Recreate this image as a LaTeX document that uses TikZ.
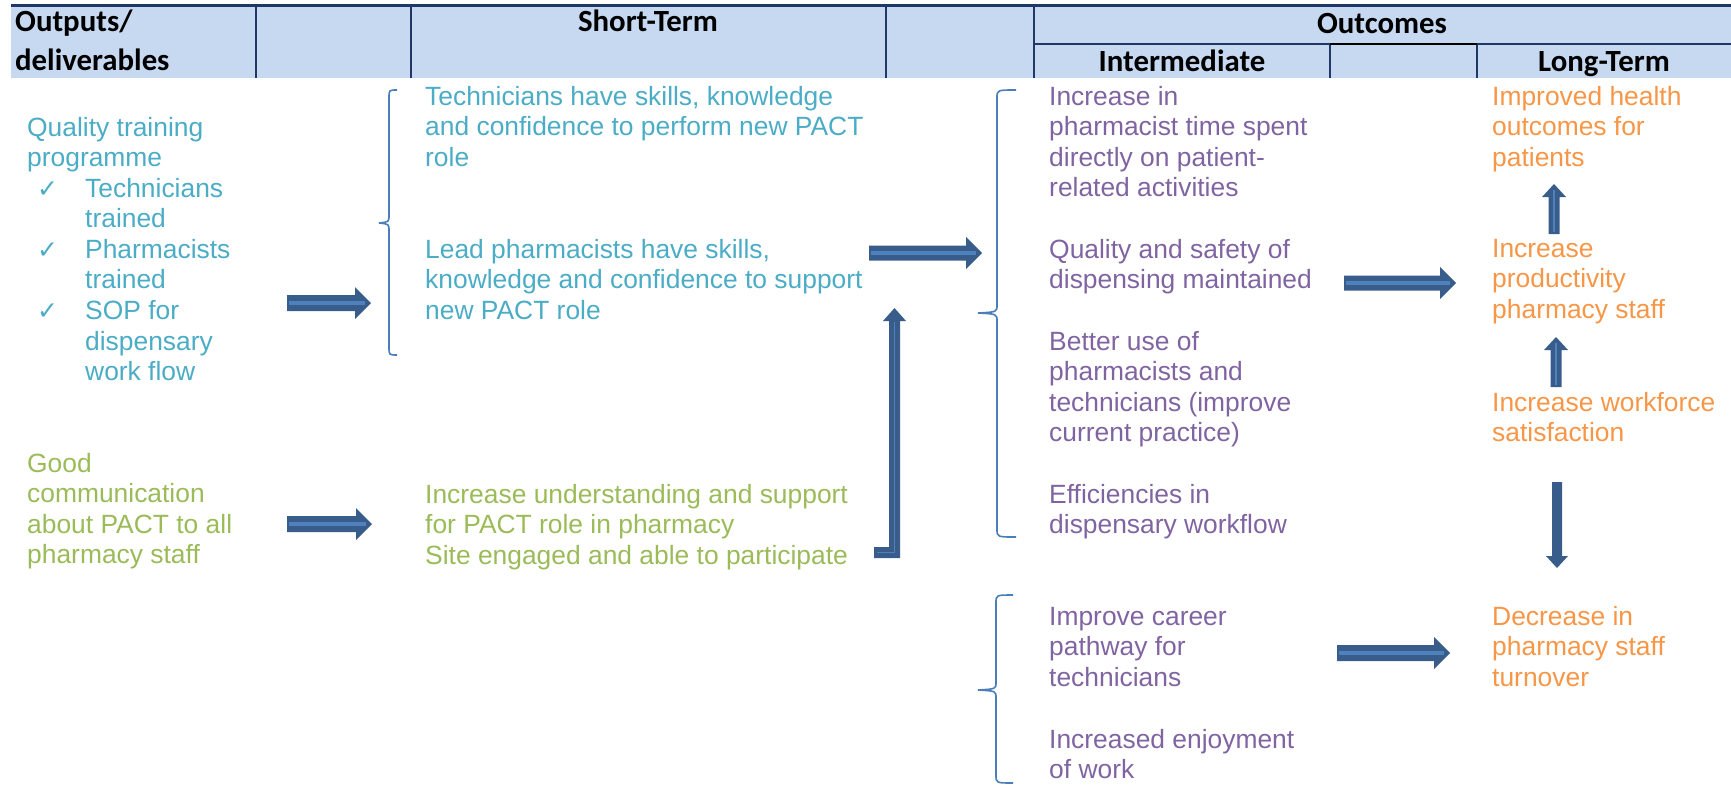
\documentclass[tikz,border=0pt]{standalone}
\usepackage{fontspec}
\setmainfont{Liberation Sans}
\newfontfamily\hdrfont{Carlito}
\newfontfamily\symfont{DejaVu Sans}
\definecolor{cteal}{HTML}{4BACC6}
\definecolor{cgreen}{HTML}{9BBB59}
\definecolor{cpurple}{HTML}{8064A2}
\definecolor{corange}{HTML}{F79646}
\definecolor{hdrfill}{HTML}{C6D9F1}
\definecolor{hdrline}{HTML}{1F3864}
\definecolor{bracecol}{HTML}{4A7EBB}
\definecolor{adark}{HTML}{385D8A}
\definecolor{alight}{HTML}{4F81BD}
\newcommand\BArR[6]{%
  \fill[adark] (#1,{#3-#4}) -- ({#2-#6},{#3-#4}) -- ({#2-#6},{#3-#5}) -- (#2,#3) -- ({#2-#6},{#3+#5}) -- ({#2-#6},{#3+#4}) -- (#1,{#3+#4}) -- cycle;
  \draw[alight,line width=#4*0.6pt] ({#1+2},#3) -- ({#2-6},#3);}
\newcommand\BArU[6]{%
  \fill[adark] ({#1-#4},#2) -- ({#1-#4},{#3+#6}) -- ({#1-#5},{#3+#6}) -- (#1,#3) -- ({#1+#5},{#3+#6}) -- ({#1+#4},{#3+#6}) -- ({#1+#4},#2) -- cycle;
  \draw[alight,line width=1.2pt] (#1,{#2-2}) -- (#1,{#3+6});}
\newcommand\BArD[6]{%
  \fill[adark] ({#1-#4},#2) -- ({#1-#4},{#3-#6}) -- ({#1-#5},{#3-#6}) -- (#1,#3) -- ({#1+#5},{#3-#6}) -- ({#1+#4},{#3-#6}) -- ({#1+#4},#2) -- cycle;}
\newcommand\Brc[7]{% X hookright T B M tipx
  \draw[bracecol,line width=1.6pt] (#2,#3) .. controls (#1,#3) and (#1,#3) .. (#1,{#3+8}) -- (#1,{#5-8}) .. controls (#1,{#5-1}) .. (#6,#5);
  \draw[bracecol,line width=1.6pt] (#6,#5) .. controls (#1,{#5+1}) .. (#1,{#5+8}) -- (#1,{#4-8}) .. controls (#1,#4) and (#1,#4) .. (#2,#4);}
\tikzset{
  txt/.style={inner sep=0pt, anchor=base west, align=left, font=\fontsize{26.4}{30.6}\selectfont},
  hdr/.style={inner sep=0pt, anchor=base, font=\hdrfont\bfseries\fontsize{30.8}{39}\selectfont, text=black},
  chk/.style={inner sep=0pt, anchor=base west, text=cteal, font=\symfont\fontsize{25}{25}\selectfont}
}
\begin{document}
\begin{tikzpicture}[x=1pt,y=-1pt]
\useasboundingbox (0,0) rectangle (1731,785);
% header
\fill[hdrfill] (11,5) rectangle (1731,78);
\draw[hdrline,line width=3pt] (11,5) -- (1731,5);
\foreach \xx in {256,411,886,1034}{\draw[hdrline,line width=1.6pt] (\xx,5) -- (\xx,78);}
\foreach \xx in {1330,1477}{\draw[hdrline,line width=1.6pt] (\xx,44) -- (\xx,78);}
\draw[hdrline,line width=1.4pt] (1034,44) -- (1731,44);
\draw[black,line width=2.4pt] (1330,44) -- (1477,44);
% (multi-line nodes: base anchor = baseline of the last line)
\node[hdr,anchor=base west,align=left] (hout) at (15,70) {Outputs/\\deliverables};
\node[hdr] (hshort) at (648,31) {Short-Term};
\node[hdr] (houtc) at (1382,33) {Outcomes};
\node[hdr] (hint) at (1182,71) {Intermediate};
\node[hdr] (hlong) at (1604,71) {Long-Term};
% left column
\node[txt,text=cteal] (qtp) at (27,166.6) {Quality training\\programme};
\node[txt,text=cteal] (items) at (85,380.6) {Technicians\\trained\\Pharmacists\\trained\\SOP for\\dispensary\\work flow};
\node[chk] (c1) at (37,197) {✓};
\node[chk] (c2) at (37,258) {✓};
\node[chk] (c3) at (37,319) {✓};
\node[txt,text=cgreen] (comm) at (27,563.8) {Good\\communication\\about PACT to all\\pharmacy staff};
% short-term
\node[txt,text=cteal] (st1) at (425,166.2) {Technicians have skills, knowledge\\and confidence to perform new PACT\\role};
\node[txt,text=cteal] (st2) at (425,319.2) {Lead pharmacists have skills,\\knowledge and confidence to support\\new PACT role};
\node[txt,text=cgreen] (st3) at (425,564.2) {Increase understanding and support\\for PACT role in pharmacy\\Site engaged and able to participate};
% intermediate
\node[txt,text=cpurple] (im1) at (1049,196.8) {Increase in\\pharmacist time spent\\directly on patient-\\related activities};
\node[txt,text=cpurple] (im2) at (1049,288.6) {Quality and safety of\\dispensing maintained};
\node[txt,text=cpurple] (im3) at (1049,441.8) {Better use of\\pharmacists and\\technicians (improve\\current practice)};
\node[txt,text=cpurple] (im4) at (1049,533.6) {Efficiencies in\\dispensary workflow};
\node[txt,text=cpurple] (im5) at (1049,686.2) {Improve career\\pathway for\\technicians};
\node[txt,text=cpurple] (im6) at (1049,778.6) {Increased enjoyment\\of work};
% long-term
\node[txt,text=corange] (lt1) at (1492,166.2) {Improved health\\outcomes for\\patients};
\node[txt,text=corange] (lt2) at (1492,318.2) {Increase\\productivity\\pharmacy staff};
\node[txt,text=corange] (lt3) at (1492,441.6) {Increase workforce\\satisfaction};
\node[txt,text=corange] (lt4) at (1492,686.2) {Decrease in\\pharmacy staff\\turnover};
% braces
\Brc{389}{397}{90}{355}{223}{379}{}
\Brc{997}{1016}{90}{537}{313}{978}{}
\Brc{996}{1013}{595}{783}{690}{978}{}
% block arrows
\BArR{287}{371}{303}{8}{16}{16}
\BArR{287}{372}{524}{8}{16}{16}
\BArR{869}{982}{253}{7.5}{16}{16}
\BArR{1344}{1456}{283}{7.5}{16}{16}
\BArR{1337}{1450}{653}{8}{16}{16}
\BArU{1554}{234}{184}{5.5}{12}{13}
\BArU{1556}{387}{337}{5.5}{12}{13}
\BArD{1557}{482}{568}{5}{11}{12}
% elbow arrow
\fill[adark] (874,547) -- (889,547) -- (889,321) -- (883,321) -- (894.5,308) -- (906,321) -- (900,321) -- (900,558) -- (874,558) -- cycle;
\draw[alight,line width=1.2pt] (877,552.5) -- (894.5,552.5) -- (894.5,322);
\end{tikzpicture}
\end{document}
